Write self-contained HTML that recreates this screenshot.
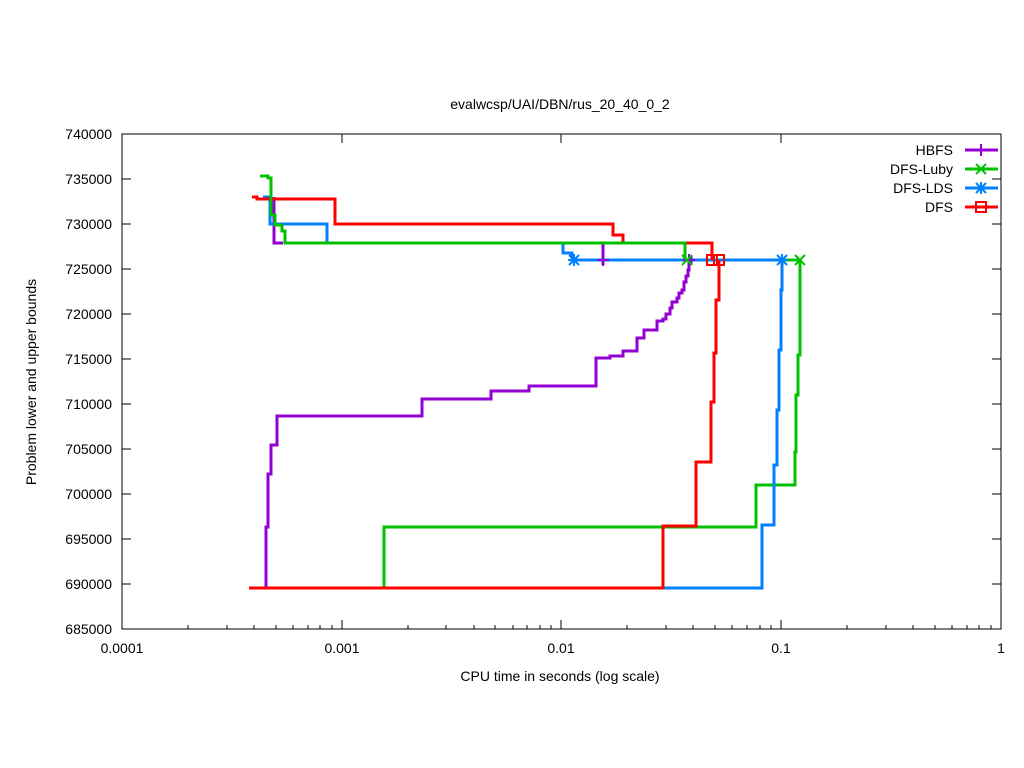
<!DOCTYPE html><html><head><style>body{margin:0;background:#fff}svg{display:block}text{font-family:"Liberation Sans",sans-serif;font-size:14px;fill:#000}</style></head><body>
<svg width="1024" height="768" xmlns="http://www.w3.org/2000/svg">
<rect width="1024" height="768" fill="#fff"/>
<text x="560" y="109" text-anchor="middle">evalwcsp/UAI/DBN/rus_20_40_0_2</text>
<g stroke="#000" stroke-width="1" fill="none">
<rect x="122" y="134" width="879" height="495"/>
<path d="M122 134h9M122 179h9M122 224h9M122 269h9M122 314h9M122 359h9M122 404h9M122 449h9M122 494h9M122 539h9M122 584h9M122 629h9M1001 134h-9M1001 179h-9M1001 224h-9M1001 269h-9M1001 314h-9M1001 359h-9M1001 404h-9M1001 449h-9M1001 494h-9M1001 539h-9M1001 584h-9M1001 629h-9"/>
<path d="M122 629v-9M342 629v-9M561 629v-9M781 629v-9M1001 629v-9M122 134v9M342 134v9M561 134v9M781 134v9M1001 134v9"/>
<path d="M188 629v-4M227 629v-4M254 629v-4M276 629v-4M293 629v-4M308 629v-4M320 629v-4M332 629v-4M408 629v-4M446 629v-4M474 629v-4M495 629v-4M513 629v-4M527 629v-4M540 629v-4M551 629v-4M627 629v-4M666 629v-4M693 629v-4M715 629v-4M732 629v-4M747 629v-4M760 629v-4M771 629v-4M847 629v-4M886 629v-4M913 629v-4M935 629v-4M952 629v-4M967 629v-4M979 629v-4M991 629v-4"/>
</g>
<g text-anchor="end">
<text x="112" y="139">740000</text><text x="112" y="184">735000</text><text x="112" y="229">730000</text><text x="112" y="274">725000</text><text x="112" y="319">720000</text><text x="112" y="364">715000</text><text x="112" y="409">710000</text><text x="112" y="454">705000</text><text x="112" y="499">700000</text><text x="112" y="544">695000</text><text x="112" y="589">690000</text><text x="112" y="634">685000</text>
</g>
<g text-anchor="middle">
<text x="122" y="653">0.0001</text><text x="342" y="653">0.001</text><text x="561" y="653">0.01</text><text x="781" y="653">0.1</text><text x="1001" y="653">1</text>
<text x="560" y="681">CPU time in seconds (log scale)</text>
<text transform="translate(36,382) rotate(-90)">Problem lower and upper bounds</text>
</g>
<g fill="none" stroke-width="3">
<g stroke="#9400d3">
<path d="M274 197V243H283"/><path d="M603 243V265"/>
<path d="M266 588V527H268V474H271V445H277V416H422V399H491V391H529V386H596V358H610V356H623V351H637V338H644V330H657V321H663V319H666V314H670V308H672V302H677V298H679V293H682V290H684V282H686V276H688V270H689V263H691V256"/>
</g>
<g stroke="#00c000">
<path d="M384 588V527H756V485H795V452H796V395H798V355H800V260H782"/>
</g>
<g stroke="#0080ff">
<path d="M263 197H270V224H327V243"/>
<path d="M563 243V253H572V260H782"/>
<path d="M662 588H762V525H774V465H777V410H779V350H781V290H782V260"/>
</g>
<g stroke="#ff0000">
<path d="M252 197H257V199H335V224H613V235H623V243H712V260"/>
<path d="M249 588H663V526H696V462H711V402H714V353H716V300H719V260"/>
</g>
<g stroke="#00c000">
<path d="M260 176H268V178H271V215H275V225H282V231H285V243H685V260H686"/>
</g>
</g>
<g stroke-width="2" fill="none">
<path d="M603 254v12M597 260h12M689 254v12M683 260h12" stroke="#9400d3"/>
<path d="M682 255l10 10M682 265l10-10M795 255l10 10M795 265l10-10" stroke="#00c000"/>
<path d="M569 255l10 10M569 265l10-10M574 254v12M568 260h12M777 255l10 10M777 265l10-10M782 254v12M776 260h12" stroke="#0080ff"/>
<rect x="707" y="255" width="10" height="10" stroke="#ff0000"/><rect x="714" y="255" width="10" height="10" stroke="#ff0000"/>
</g>
<g text-anchor="end">
<text x="953" y="155">HBFS</text><text x="953" y="174">DFS-Luby</text><text x="953" y="193">DFS-LDS</text><text x="953" y="212">DFS</text>
</g>
<g fill="none" stroke-width="3">
<path d="M965 150h33" stroke="#9400d3"/><path d="M981 144v12" stroke="#9400d3" stroke-width="2"/>
<path d="M965 169h33" stroke="#00c000"/><path d="M976 164l10 10M976 174l10-10" stroke="#00c000" stroke-width="2"/>
<path d="M965 188h33" stroke="#0080ff"/><path d="M976 183l10 10M976 193l10-10M981 182v12" stroke="#0080ff" stroke-width="2"/>
<path d="M965 207h33" stroke="#ff0000"/><rect x="976" y="202" width="10" height="10" stroke="#ff0000" stroke-width="2"/>
</g>
</svg></body></html>
